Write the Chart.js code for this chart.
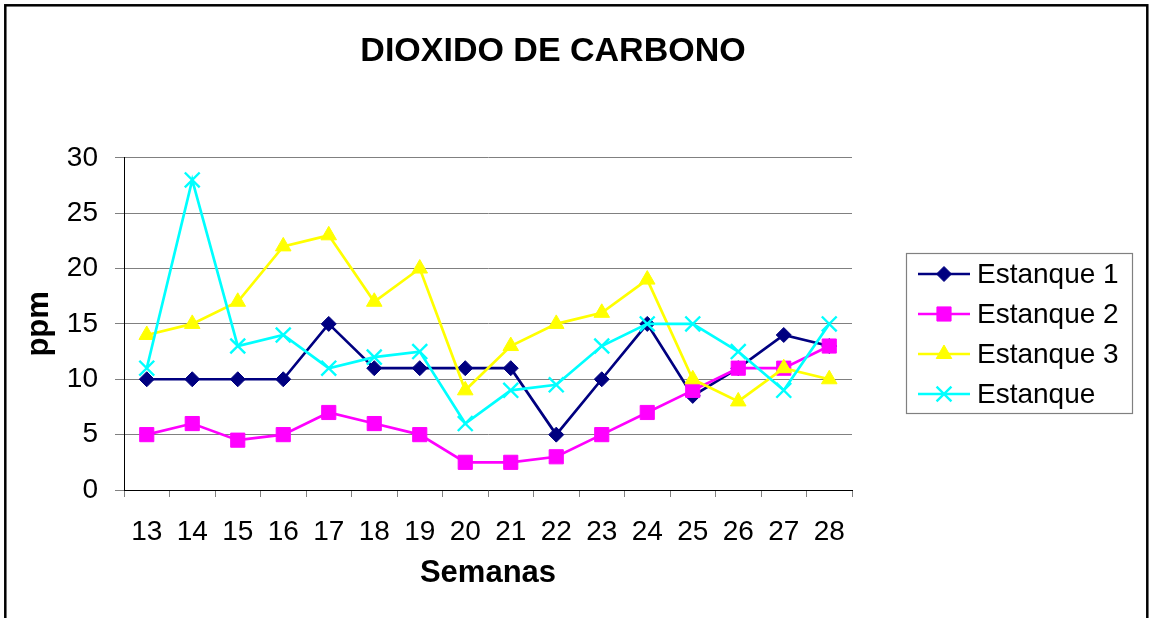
<!DOCTYPE html>
<html><head><meta charset="utf-8">
<script src="https://cdn.jsdelivr.net/npm/chart.js@4.4.1/dist/chart.umd.min.js"></script>
<style>html,body{margin:0;padding:0;background:#fff;overflow:hidden}canvas{display:block}</style>
</head><body>
<canvas id="c" width="1150" height="618"></canvas>
<script>
const chartTitle = 'DIOXIDO DE CARBONO';
const xTitle = 'Semanas';
const yTitle = 'ppm';
const weeks = ['13','14','15','16','17','18','19','20','21','22','23','24','25','26','27','28'];
const seriesNames = ['Estanque 1','Estanque 2','Estanque 3','Estanque'];
const estanque1 = [10,10,10,10,15,11,11,11,11,5,10,15,8.5,11,14,13];
const estanque2 = [5,6,4.5,5,7,6,5,2.5,2.5,3,5,7,9,11,11,13];
const estanque3 = [14,15,17,22,23,17,20,9,13,15,16,19,10,8,11,10];
const estanque4 = [11,28,13,14,11,12,12.5,6,9,9.5,13,15,15,12.5,9,15];
const yMin = 0, yMax = 30, yStep = 5;

const FONT = '"Liberation Sans", Arial, Helvetica, sans-serif';

const styles = [
  {color:'#000080', pointStyle:'rectRot', radius:7.5, bw:1},
  {color:'#FF00FF', pointStyle:'rect', radius:10, bw:1},
  {color:'#FFFF00', pointStyle:'triangle', radius:9, bw:1},
  {color:'#00FFFF', pointStyle:'crossRot', radius:10.5, bw:2.4}
];
const values = [estanque1, estanque2, estanque3, estanque4];

const datasets = values.map((v,i)=>({
  label: seriesNames[i],
  data: v,
  yAxisID: 'y',
  borderColor: styles[i].color,
  backgroundColor: styles[i].color,
  borderWidth: 2.7,
  pointStyle: styles[i].pointStyle,
  pointRadius: styles[i].radius,
  pointBorderWidth: styles[i].bw,
  pointBackgroundColor: styles[i].color,
  pointBorderColor: styles[i].color,
  tension: 0,
  order: 4 - i
}));

const decor = {
  id: 'decor',
  afterDraw(chart) {
    const ctx = chart.ctx;
    ctx.save();
    // outer frame
    ctx.strokeStyle = '#000';
    ctx.lineWidth = 2.5;
    ctx.strokeRect(5.3, 5.3, 1142, 700);
    // legend box
    ctx.strokeStyle = '#808080';
    ctx.lineWidth = 1.2;
    ctx.strokeRect(906.5, 253.5, 226, 160);
    ctx.font = '28px ' + FONT;
    ctx.textBaseline = 'middle';
    ctx.textAlign = 'left';
    seriesNames.forEach((name, i) => {
      const y = 274 + i * 40;
      const s = styles[i];
      ctx.strokeStyle = s.color;
      ctx.lineWidth = 2.7;
      ctx.beginPath(); ctx.moveTo(918, y); ctx.lineTo(970, y); ctx.stroke();
      ctx.fillStyle = s.color;
      ctx.strokeStyle = s.color;
      ctx.lineWidth = s.bw;
      Chart.helpers.drawPoint(ctx, {pointStyle: s.pointStyle, radius: s.radius, rotation: 0, borderWidth: s.bw}, 944, y);
      ctx.fillStyle = '#000';
      ctx.fillText(name, 977, y + 1);
    });
    ctx.restore();
  }
};

new Chart(document.getElementById('c'), {
  type: 'line',
  data: { labels: weeks, datasets },
  options: {
    responsive: false,
    animation: false,
    devicePixelRatio: 1,
    layout: { padding: { left: 8, right: 52, top: 10, bottom: 0 } },
    plugins: {
      legend: { display: false },
      tooltip: { enabled: false },
      title: {
        display: true, text: chartTitle, color: '#000',
        font: { family: FONT, size: 34, weight: 'bold' },
        padding: { top: 21, bottom: 86 }
      }
    },
    scales: {
      x: {
        offset: true,
        grid: { display: true, drawOnChartArea: false, drawTicks: true, tickLength: 7, color: '#808080', offset: true },
        border: { display: true, color: '#000', width: 1 },
        ticks: { color: '#000', font: { family: FONT, size: 28 }, padding: 18, maxRotation: 0, autoSkip: false },
        title: { display: true, text: xTitle, color: '#000', font: { family: FONT, size: 31, weight: 'bold' }, padding: { top: 0, bottom: 26 } },
        afterFit(scale) { scale.height = 128; }
      },
      y: {
        position: 'left',
        min: yMin, max: yMax,
        grid: { color: '#808080', lineWidth: 1, drawTicks: true, tickLength: 9 },
        border: { display: true, color: '#000', width: 1 },
        ticks: { stepSize: yStep, color: '#000', font: { family: FONT, size: 28 }, padding: 17 },
        title: { display: true, text: yTitle, color: '#000', font: { family: FONT, size: 31, weight: 'bold' }, padding: { top: 13, bottom: 0 } },
        afterFit(scale) { scale.width = 116; }
      },
      spacer: {
        type: 'linear',
        position: 'right',
        display: true,
        grid: { display: false, drawTicks: false },
        border: { display: false },
        ticks: { display: false },
        afterFit(scale) { scale.width = 246; }
      }
    }
  },
  plugins: [decor]
});
</script>
</body></html>
